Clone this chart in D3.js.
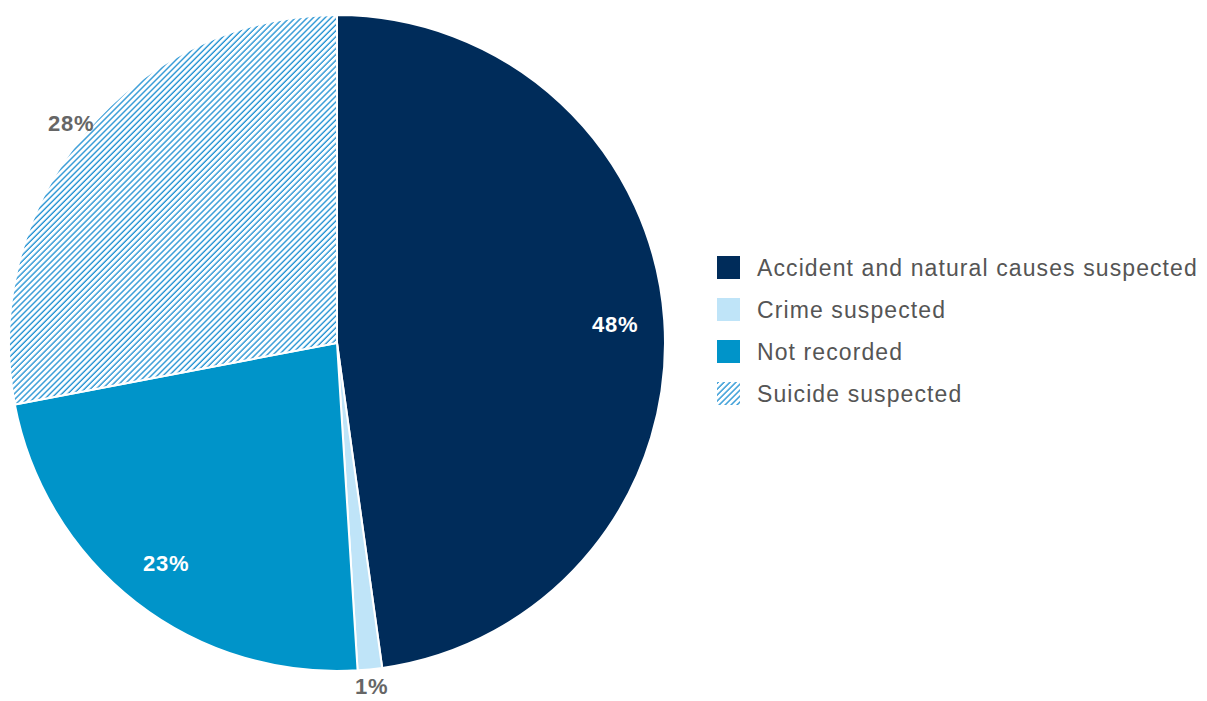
<!DOCTYPE html>
<html>
<head>
<meta charset="utf-8">
<script src="https://cdn.jsdelivr.net/npm/d3@7"></script>
<style>
  body { margin: 0; background: #fff; }
  svg text { font-family: "Liberation Sans", Arial, sans-serif; }
</style>
</head>
<body>
<svg id="chart" width="1207" height="701"></svg>
<script>
// data
var categories = ["Accident and natural causes suspected", "Crime suspected", "Not recorded", "Suicide suspected"];
var shares = [47.8, 1.2, 23.0, 28.0];
var sliceColors = ["#002c5a", "#bfe4f8", "#0094c9", "url(#hatch)"];
var labelInside = [true, false, true, false];

var width = 1207, height = 701;
var cx = 337, cy = 343, radius = 328;

var svg = d3.select("#chart");

// diagonal hatch for the suicide slice
var defs = svg.append("defs");
defs.append("pattern")
    .attr("id", "hatch")
    .attr("patternUnits", "userSpaceOnUse")
    .attr("width", 4.2)
    .attr("height", 4.2)
    .attr("patternTransform", "rotate(45)")
  .append("line")
    .attr("x1", 1).attr("y1", 0)
    .attr("x2", 1).attr("y2", 4.2)
    .style("stroke", "#1a8ed1")
    .style("stroke-width", 1.3);

var pie = d3.pie().sort(null).value(function(d) { return d; });
var arcs = pie(shares);

var arc = d3.arc().innerRadius(0).outerRadius(radius);

var g = svg.append("g").attr("transform", "translate(" + cx + "," + cy + ")");

g.selectAll("path.slice")
  .data(arcs)
  .enter().append("path")
    .attr("class", "slice")
    .attr("d", arc)
    .style("fill", function(d, i) { return sliceColors[i]; })
    .style("stroke", "#fff")
    .style("stroke-width", 2);

// labels: inside ones near the rim, outside ones just beyond it
var insideArc = d3.arc().innerRadius(radius * 0.85).outerRadius(radius * 0.85);
var outsideArc = d3.arc().innerRadius(radius + 17).outerRadius(radius + 17);

g.selectAll("text.pct")
  .data(arcs)
  .enter().append("text")
    .attr("class", "pct")
    .attr("transform", function(d, i) {
      var p = labelInside[i] ? insideArc.centroid(d) : outsideArc.centroid(d);
      return "translate(" + p[0] + "," + p[1] + ")";
    })
    .attr("text-anchor", "middle")
    .attr("dy", "0.36em")
    .style("font-size", "22px")
    .style("font-weight", "bold")
    .style("letter-spacing", "0.8px")
    .style("fill", function(d, i) { return labelInside[i] ? "#fff" : "#666"; })
    .text(function(d) { return Math.round(d.data) + "%"; });

// legend
var legend = svg.append("g").attr("transform", "translate(717,256)");
var rowH = 42;

var row = legend.selectAll("g.row")
  .data(categories)
  .enter().append("g")
    .attr("class", "row")
    .attr("transform", function(d, i) { return "translate(0," + i * rowH + ")"; });

row.append("rect")
    .attr("width", 23)
    .attr("height", 23)
    .style("fill", function(d, i) { return sliceColors[i]; });

row.append("text")
    .attr("x", 40)
    .attr("y", 11.5)
    .attr("dy", "0.36em")
    .style("font-size", "23px")
    .style("letter-spacing", "1.1px")
    .style("fill", "#555")
    .text(function(d) { return d; });
</script>
</body>
</html>
